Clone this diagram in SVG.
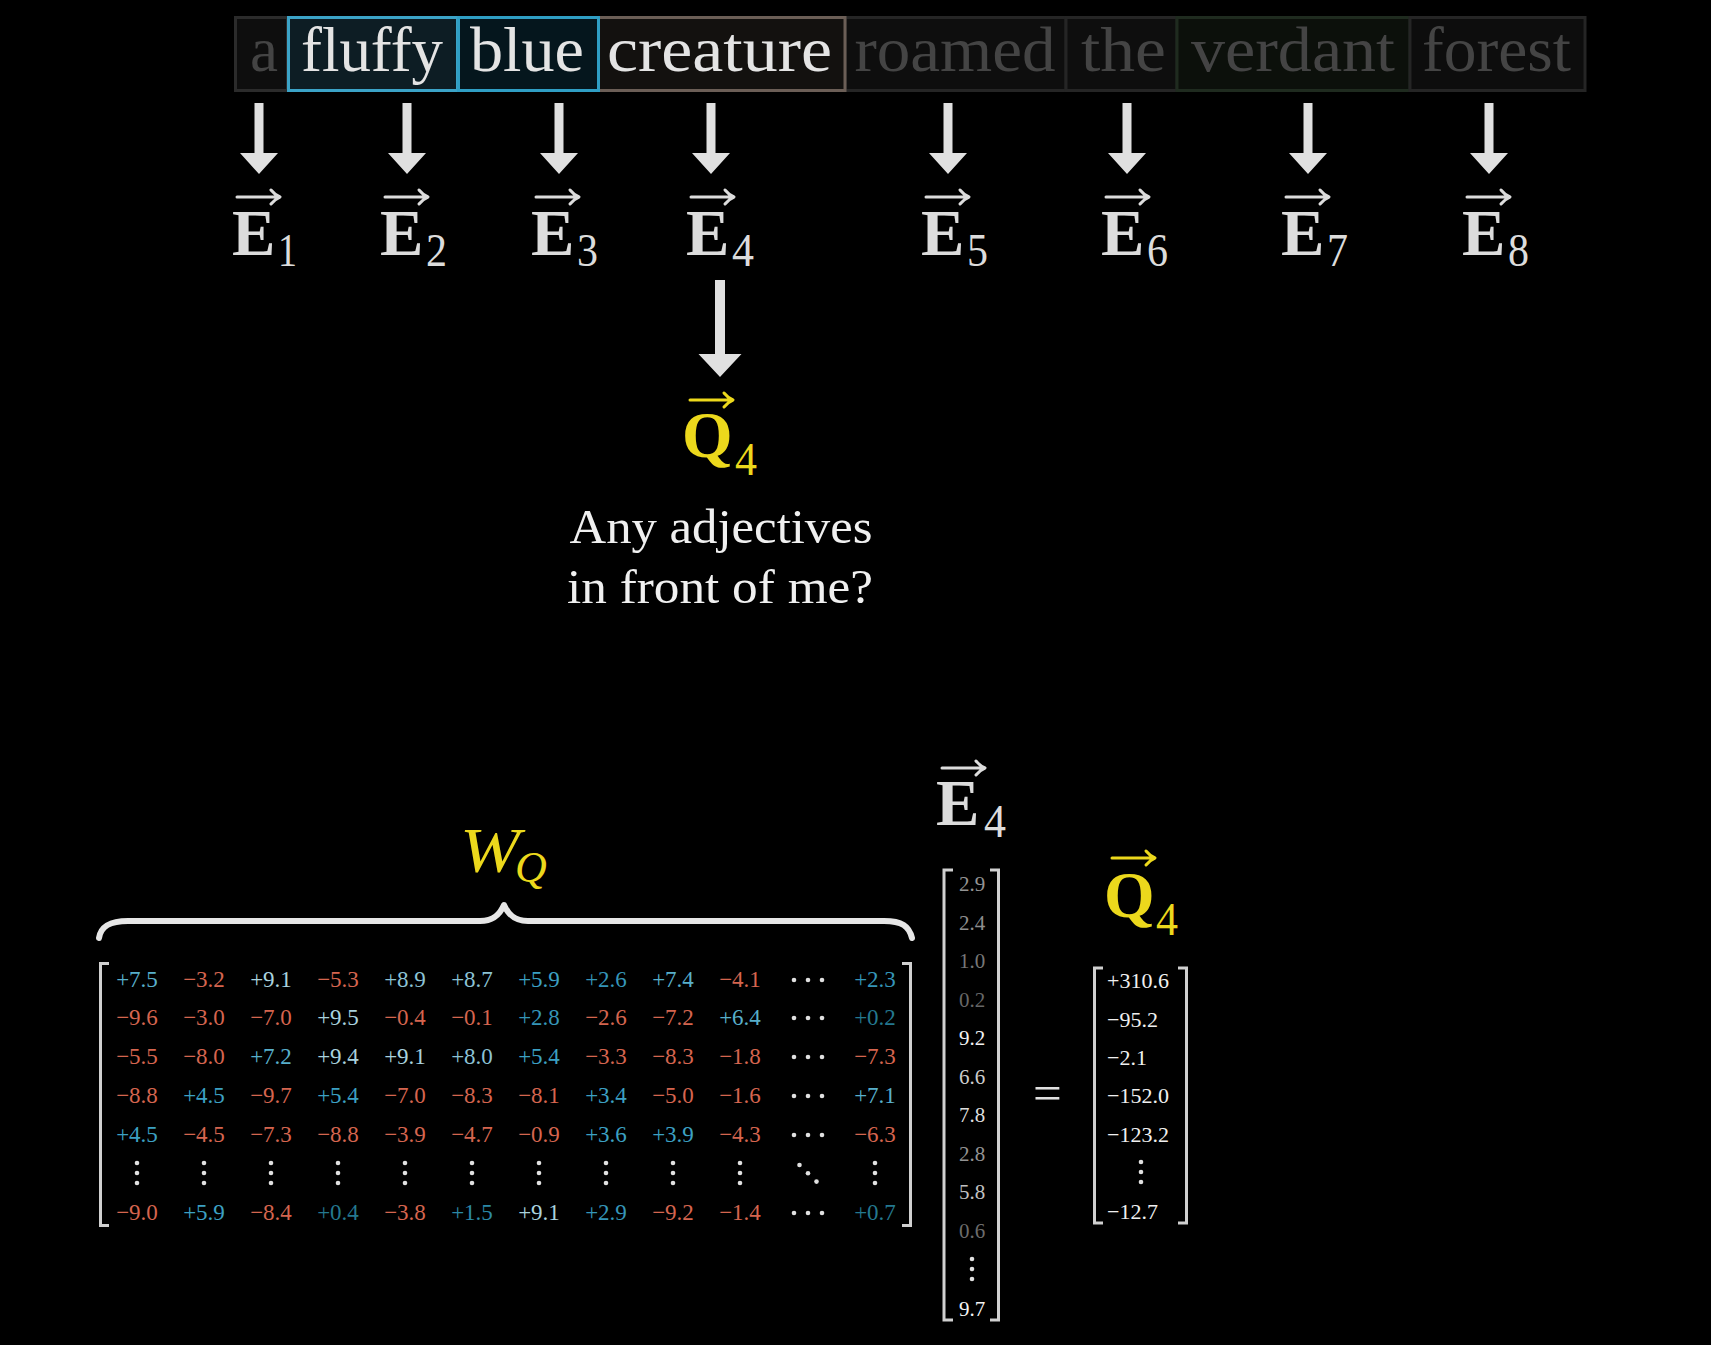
<svg xmlns="http://www.w3.org/2000/svg" xmlns:xlink="http://www.w3.org/1999/xlink" width="1711" height="1345" viewBox="0 0 1711 1345">
<style>
.serif{font-family:"Liberation Serif","Times New Roman",serif}
.word{font-family:"Liberation Serif","Times New Roman",serif;font-size:64px;text-anchor:middle}
.dim{fill:#444444}
.lit{fill:#e4e4e4}
.ebig{font-family:"Liberation Serif",serif;font-size:65px;font-weight:bold;fill:#dcdcdc}
.esub{font-family:"Liberation Serif",serif;font-size:47px;fill:#dcdcdc}
.qbig{font-family:"Liberation Serif",serif;font-size:65px;font-weight:bold;fill:#ecd81c}
.qsub{font-family:"Liberation Serif",serif;font-size:47px;fill:#ecd81c}
.q{font-family:"Liberation Serif",serif;font-size:48px;fill:#f0f0f0;text-anchor:middle}
.m{font-family:"Liberation Serif",serif;font-size:23px;text-anchor:middle}
.r{fill:#d5654f}
.b0{fill:#24788f}
.b1{fill:#2c88a6}
.b2{fill:#3595b8}
.b3{fill:#3ca0c3}
.b6{fill:#58afcb}
.b8{fill:#8cc3d5}
.b9{fill:#a9d2de}
.ev{font-family:"Liberation Serif",serif;font-size:21px;text-anchor:middle}
.qv{font-family:"Liberation Serif",serif;font-size:22px;fill:#f0f0f0}
.brk{fill:none;stroke:#d0d0d0;stroke-width:3}
.dot{fill:#e0e0e0}
.vec{fill:none;stroke-width:3;stroke-linecap:round;stroke-linejoin:round}
</style>
<defs>
<path id="darr" d="M-4.5,0 H4.5 V50 H19 L0,71 L-19,50 H-4.5 Z" fill="#e0e0e0"/>
<path id="vec" d="M0,0 H42 M34,-7 Q38,-2 43,0 Q38,2 34,7"/>
<g id="vdots"><circle cx="0" cy="0" r="2.3"/><circle cx="0" cy="10" r="2.3"/><circle cx="0" cy="20" r="2.3"/></g>
<g id="hdots"><circle cx="-14" cy="0" r="2.3"/><circle cx="0" cy="0" r="2.3"/><circle cx="14" cy="0" r="2.3"/></g>
</defs>
<rect width="1711" height="1345" fill="#000"/>

<g id="tokens">
<g id="tok-a"><rect x="235.5" y="17.5" width="52" height="73" fill="#0e0e0e" stroke="#2b2b2b" stroke-width="3"/><text class="word dim" x="264" y="71" textLength="28" lengthAdjust="spacingAndGlyphs">a</text></g>
<g id="tok-roamed"><rect x="845" y="17.5" width="221" height="73" fill="#0e0e0e" stroke="#252525" stroke-width="3"/><text class="word dim" x="955" y="71" textLength="201" lengthAdjust="spacingAndGlyphs">roamed</text></g>
<g id="tok-the"><rect x="1066" y="17.5" width="111" height="73" fill="#0e0e0e" stroke="#252525" stroke-width="3"/><text class="word dim" x="1123.5" y="71" textLength="85" lengthAdjust="spacingAndGlyphs">the</text></g>
<g id="tok-verdant"><rect x="1177" y="17.5" width="233" height="73" fill="#0c100b" stroke="#1f2b1f" stroke-width="3"/><text class="word dim" x="1293" y="71" textLength="204" lengthAdjust="spacingAndGlyphs">verdant</text></g>
<g id="tok-forest"><rect x="1410" y="17.5" width="175" height="73" fill="#0d0d0d" stroke="#252525" stroke-width="3"/><text class="word dim" x="1496.5" y="71" textLength="149" lengthAdjust="spacingAndGlyphs">forest</text></g>
<g id="tok-creature"><rect x="598.5" y="17.5" width="246.5" height="73" fill="#13110f" stroke="#6b5e56" stroke-width="3"/><text class="word lit" x="719.5" y="71" textLength="225" lengthAdjust="spacingAndGlyphs">creature</text></g>
<g id="tok-fluffy"><rect x="288.5" y="17.5" width="169" height="73" fill="#0d1d24" stroke="#3ba3c7" stroke-width="3"/><text class="word lit" x="372" y="71" textLength="142" lengthAdjust="spacingAndGlyphs">fluffy</text></g>
<g id="tok-blue"><rect x="458.5" y="17.5" width="140" height="73" fill="#05161d" stroke="#2f9ec4" stroke-width="3"/><text class="word lit" x="527" y="71" textLength="114" lengthAdjust="spacingAndGlyphs">blue</text></g>
</g>

<g id="connectors">
<use href="#darr" transform="translate(259,103)"/>
<use href="#darr" transform="translate(407,103)"/>
<use href="#darr" transform="translate(559,103)"/>
<use href="#darr" transform="translate(711,103)"/>
<use href="#darr" transform="translate(948,103)"/>
<use href="#darr" transform="translate(1127,103)"/>
<use href="#darr" transform="translate(1308,103)"/>
<use href="#darr" transform="translate(1489,103)"/>
<path d="M715,280 H725 V354 H741.5 L720,377 L698.5,354 H715 Z" fill="#e0e0e0"/>
</g>

<g id="embeddings">
<g id="E1"><use href="#vec" class="vec" stroke="#dcdcdc" transform="translate(237,197)"/><text class="ebig" x="232" y="255">E</text><text class="esub" x="278" y="266" textLength="19" lengthAdjust="spacingAndGlyphs">1</text></g>
<g id="E2"><use href="#vec" class="vec" stroke="#dcdcdc" transform="translate(385,197)"/><text class="ebig" x="380" y="255">E</text><text class="esub" x="426" y="266" textLength="21" lengthAdjust="spacingAndGlyphs">2</text></g>
<g id="E3"><use href="#vec" class="vec" stroke="#dcdcdc" transform="translate(536,197)"/><text class="ebig" x="531" y="255">E</text><text class="esub" x="577" y="266" textLength="21" lengthAdjust="spacingAndGlyphs">3</text></g>
<g id="E4"><use href="#vec" class="vec" stroke="#dcdcdc" transform="translate(691,197)"/><text class="ebig" x="686" y="255">E</text><text class="esub" x="732" y="266" textLength="22" lengthAdjust="spacingAndGlyphs">4</text></g>
<g id="E5"><use href="#vec" class="vec" stroke="#dcdcdc" transform="translate(926,197)"/><text class="ebig" x="921" y="255">E</text><text class="esub" x="967" y="266" textLength="21" lengthAdjust="spacingAndGlyphs">5</text></g>
<g id="E6"><use href="#vec" class="vec" stroke="#dcdcdc" transform="translate(1106,197)"/><text class="ebig" x="1101" y="255">E</text><text class="esub" x="1147" y="266" textLength="21" lengthAdjust="spacingAndGlyphs">6</text></g>
<g id="E7"><use href="#vec" class="vec" stroke="#dcdcdc" transform="translate(1286,197)"/><text class="ebig" x="1281" y="255">E</text><text class="esub" x="1327" y="266" textLength="21" lengthAdjust="spacingAndGlyphs">7</text></g>
<g id="E8"><use href="#vec" class="vec" stroke="#dcdcdc" transform="translate(1467,197)"/><text class="ebig" x="1462" y="255">E</text><text class="esub" x="1508" y="266" textLength="21" lengthAdjust="spacingAndGlyphs">8</text></g>
</g>

<g id="Q4-top">
<use href="#vec" class="vec" stroke="#ecd81c" transform="translate(690,400)"/>
<text class="qbig" x="682" y="457">Q</text><text class="qsub" x="735" y="475" textLength="22" lengthAdjust="spacingAndGlyphs">4</text>
</g>

<g id="question">
<text class="q" x="721" y="543" textLength="303" lengthAdjust="spacingAndGlyphs">Any adjectives</text>
<text class="q" x="720" y="603" textLength="306" lengthAdjust="spacingAndGlyphs">in front of me?</text>
</g>

<g id="WQ-label">
<text class="serif" x="460" y="872" font-size="64" font-style="italic" fill="#ecd81c" textLength="60" lengthAdjust="spacingAndGlyphs">W</text>
<text class="serif" x="515" y="882" font-size="44" font-style="italic" fill="#ecd81c">Q</text>
</g>

<g id="brace">
<path d="M99,938 C101,926 110,921 128,921 L480,921 C494,921 500,914 504,905 C508,914 514,921 528,921 L884,921 C902,921 909,926 912,938" fill="none" stroke="#e6e6e6" stroke-width="6" stroke-linecap="round" stroke-linejoin="round"/>
</g>

<g id="matrix-WQ">
<path class="brk" d="M109,963.5 H100.5 V1225.5 H109"/>
<path class="brk" d="M902,963.5 H910.5 V1225.5 H902"/>
<g id="row1">
<text class="m b6" x="137" y="987">+7.5</text><text class="m r" x="204" y="987">−3.2</text><text class="m b9" x="271" y="987">+9.1</text><text class="m r" x="338" y="987">−5.3</text><text class="m b8" x="405" y="987">+8.9</text><text class="m b8" x="472" y="987">+8.7</text><text class="m b3" x="539" y="987">+5.9</text><text class="m b2" x="606" y="987">+2.6</text><text class="m b6" x="673" y="987">+7.4</text><text class="m r" x="740" y="987">−4.1</text><use href="#hdots" class="dot" transform="translate(808,980)"/><text class="m b2" x="875" y="987">+2.3</text>
</g>
<g id="row2">
<text class="m r" x="137" y="1025">−9.6</text><text class="m r" x="204" y="1025">−3.0</text><text class="m r" x="271" y="1025">−7.0</text><text class="m b9" x="338" y="1025">+9.5</text><text class="m r" x="405" y="1025">−0.4</text><text class="m r" x="472" y="1025">−0.1</text><text class="m b2" x="539" y="1025">+2.8</text><text class="m r" x="606" y="1025">−2.6</text><text class="m r" x="673" y="1025">−7.2</text><text class="m b6" x="740" y="1025">+6.4</text><use href="#hdots" class="dot" transform="translate(808,1018)"/><text class="m b0" x="875" y="1025">+0.2</text>
</g>
<g id="row3">
<text class="m r" x="137" y="1064">−5.5</text><text class="m r" x="204" y="1064">−8.0</text><text class="m b6" x="271" y="1064">+7.2</text><text class="m b9" x="338" y="1064">+9.4</text><text class="m b9" x="405" y="1064">+9.1</text><text class="m b8" x="472" y="1064">+8.0</text><text class="m b3" x="539" y="1064">+5.4</text><text class="m r" x="606" y="1064">−3.3</text><text class="m r" x="673" y="1064">−8.3</text><text class="m r" x="740" y="1064">−1.8</text><use href="#hdots" class="dot" transform="translate(808,1057)"/><text class="m r" x="875" y="1064">−7.3</text>
</g>
<g id="row4">
<text class="m r" x="137" y="1103">−8.8</text><text class="m b3" x="204" y="1103">+4.5</text><text class="m r" x="271" y="1103">−9.7</text><text class="m b3" x="338" y="1103">+5.4</text><text class="m r" x="405" y="1103">−7.0</text><text class="m r" x="472" y="1103">−8.3</text><text class="m r" x="539" y="1103">−8.1</text><text class="m b3" x="606" y="1103">+3.4</text><text class="m r" x="673" y="1103">−5.0</text><text class="m r" x="740" y="1103">−1.6</text><use href="#hdots" class="dot" transform="translate(808,1096)"/><text class="m b6" x="875" y="1103">+7.1</text>
</g>
<g id="row5">
<text class="m b3" x="137" y="1142">+4.5</text><text class="m r" x="204" y="1142">−4.5</text><text class="m r" x="271" y="1142">−7.3</text><text class="m r" x="338" y="1142">−8.8</text><text class="m r" x="405" y="1142">−3.9</text><text class="m r" x="472" y="1142">−4.7</text><text class="m r" x="539" y="1142">−0.9</text><text class="m b3" x="606" y="1142">+3.6</text><text class="m b3" x="673" y="1142">+3.9</text><text class="m r" x="740" y="1142">−4.3</text><use href="#hdots" class="dot" transform="translate(808,1135)"/><text class="m r" x="875" y="1142">−6.3</text>
</g>
<g id="row-dots" class="dot">
<use href="#vdots" transform="translate(137,1163)"/><use href="#vdots" transform="translate(204,1163)"/><use href="#vdots" transform="translate(271,1163)"/><use href="#vdots" transform="translate(338,1163)"/><use href="#vdots" transform="translate(405,1163)"/><use href="#vdots" transform="translate(472,1163)"/><use href="#vdots" transform="translate(539,1163)"/><use href="#vdots" transform="translate(606,1163)"/><use href="#vdots" transform="translate(673,1163)"/><use href="#vdots" transform="translate(740,1163)"/>
<circle cx="799.5" cy="1165" r="2.3"/><circle cx="808" cy="1173.3" r="2.3"/><circle cx="816.5" cy="1181.6" r="2.3"/>
<use href="#vdots" transform="translate(875,1163)"/>
</g>
<g id="row-last">
<text class="m r" x="137" y="1220">−9.0</text><text class="m b3" x="204" y="1220">+5.9</text><text class="m r" x="271" y="1220">−8.4</text><text class="m b0" x="338" y="1220">+0.4</text><text class="m r" x="405" y="1220">−3.8</text><text class="m b1" x="472" y="1220">+1.5</text><text class="m b9" x="539" y="1220">+9.1</text><text class="m b2" x="606" y="1220">+2.9</text><text class="m r" x="673" y="1220">−9.2</text><text class="m r" x="740" y="1220">−1.4</text><use href="#hdots" class="dot" transform="translate(808,1213)"/><text class="m b0" x="875" y="1220">+0.7</text>
</g>
</g>

<g id="E4-label">
<use href="#vec" class="vec" stroke="#dcdcdc" transform="translate(942,768)"/>
<text class="ebig" x="936" y="825">E</text><text class="esub" x="984" y="837" textLength="22" lengthAdjust="spacingAndGlyphs">4</text>
</g>

<g id="E4-vector">
<path class="brk" d="M953,870 H944 V1320 H953"/>
<path class="brk" d="M990,870 H998.5 V1320 H990"/>
<text class="ev" x="972" y="891" fill="#949494">2.9</text>
<text class="ev" x="972" y="929.5" fill="#8e8e8e">2.4</text>
<text class="ev" x="972" y="968" fill="#777777">1.0</text>
<text class="ev" x="972" y="1006.5" fill="#676767">0.2</text>
<text class="ev" x="972" y="1045" fill="#f2f2f2">9.2</text>
<text class="ev" x="972" y="1083.5" fill="#cccccc">6.6</text>
<text class="ev" x="972" y="1122" fill="#dddddd">7.8</text>
<text class="ev" x="972" y="1160.5" fill="#939393">2.8</text>
<text class="ev" x="972" y="1199" fill="#c0c0c0">5.8</text>
<text class="ev" x="972" y="1237.5" fill="#6c6c6c">0.6</text>
<use href="#vdots" class="dot" transform="translate(972,1259)"/>
<text class="ev" x="972" y="1316" fill="#f5f5f5">9.7</text>
</g>

<g id="equals">
<text class="serif" x="1047.5" y="1110" font-size="51" fill="#e0e0e0" text-anchor="middle">=</text>
</g>

<g id="Q4-label">
<use href="#vec" class="vec" stroke="#ecd81c" transform="translate(1112,858)"/>
<text class="qbig" x="1104" y="917">Q</text><text class="qsub" x="1156" y="935" textLength="22" lengthAdjust="spacingAndGlyphs">4</text>
</g>

<g id="Q4-vector">
<path class="brk" d="M1103,968 H1094.5 V1223 H1103"/>
<path class="brk" d="M1178,968 H1186.5 V1223 H1178"/>
<text class="qv" x="1107" y="988">+310.6</text>
<text class="qv" x="1107" y="1026.5">−95.2</text>
<text class="qv" x="1107" y="1065">−2.1</text>
<text class="qv" x="1107" y="1103">−152.0</text>
<text class="qv" x="1107" y="1141.5">−123.2</text>
<use href="#vdots" class="dot" transform="translate(1141,1162)"/>
<text class="qv" x="1107" y="1219">−12.7</text>
</g>
</svg>
